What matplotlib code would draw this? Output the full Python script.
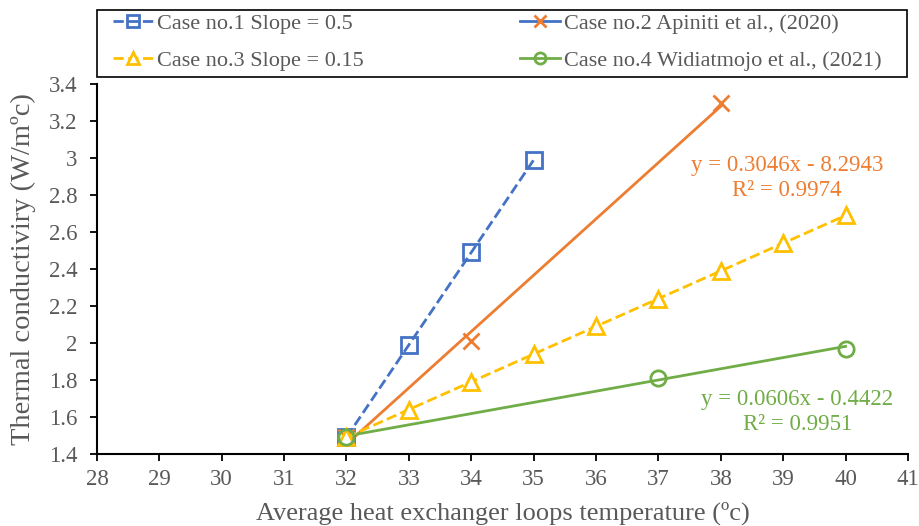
import matplotlib.pyplot as plt
from matplotlib.lines import Line2D
from matplotlib.patches import Rectangle

plt.rcParams['font.family'] = ['Liberation Serif', 'DejaVu Serif']

# data
x1 = [32, 33, 34, 35]
y1 = [1.49, 1.99, 2.49, 2.99]

x2 = [32, 34, 38]
y2 = [1.49, 2.01, 3.30]
fit2 = (0.3046, -8.2943)

x3 = [32, 33, 34, 35, 36, 37, 38, 39, 40]
y3 = [1.49, 1.64, 1.79, 1.94, 2.09, 2.24, 2.39, 2.54, 2.69]

x4 = [32, 37, 40]
y4 = [1.49, 1.81, 1.97]
fit4 = (0.0606, -0.4422)

labels = ['Case no.1 Slope = 0.5', 'Case no.2 Apiniti et al., (2020)',
          'Case no.3 Slope = 0.15', 'Case no.4 Widiatmojo et al., (2021)']

blue = '#4472C4'
orange = '#ED7D31'
yellow = '#FFC000'
green = '#70AD47'
grey = '#595959'

W, H = 919, 526
fig = plt.figure(figsize=(W / 100, H / 100), dpi=100)
ax = fig.add_axes([0.1055, 0.137, 0.8825, 0.703])

# trendlines
tx2 = [min(x2), max(x2)]
ax.plot(tx2, [fit2[0] * v + fit2[1] for v in tx2], color=orange, lw=2, zorder=2)
tx4 = [min(x4), max(x4)]
ax.plot(tx4, [fit4[0] * v + fit4[1] for v in tx4], color=green, lw=2, zorder=2)

ax.plot(x1, y1, color=blue, ls='--', lw=2, marker='s', ms=11, mfc='none', mew=2, zorder=3)
ax.plot(x2, y2, ls='none', marker='x', ms=11, mec=orange, mew=2, zorder=3)
ax.plot(x3, y3, color=yellow, ls='--', lw=2, marker='^', ms=11, mfc='white', mew=2, zorder=3)
ax.plot(x4, y4, ls='none', marker='o', ms=11, mfc='none', mec=green, mew=2, zorder=4)

fs_ann = 16.5
ax.text(39.06, 2.962, 'y = 0.3046x - 8.2943', color=orange, fontsize=fs_ann, ha='center', va='center')
ax.text(39.06, 2.827, 'R² = 0.9974', color=orange, fontsize=fs_ann, ha='center', va='center')
ax.text(39.23, 1.692, 'y = 0.0606x - 0.4422', color=green, fontsize=fs_ann, ha='center', va='center')
ax.text(39.23, 1.557, 'R² = 0.9951', color=green, fontsize=fs_ann, ha='center', va='center')

ax.set_xlim(28, 41)
ax.set_ylim(1.4, 3.4)
ax.set_xticks(range(28, 42))
ax.set_yticks([1.4, 1.6, 1.8, 2, 2.2, 2.4, 2.6, 2.8, 3, 3.2, 3.4])
ax.set_yticklabels(['1.4', '1.6', '1.8', '2', '2.2', '2.4', '2.6', '2.8', '3', '3.2', '3.4'])
ax.tick_params(labelsize=16.5, colors='black', labelcolor=grey, width=1.3, length=5)
ax.tick_params(axis='x', pad=6)
ax.tick_params(axis='y', pad=9)
for s in ['top', 'right']:
    ax.spines[s].set_visible(False)
for s in ['left', 'bottom']:
    ax.spines[s].set_linewidth(1.5)

ax.set_xlabel('Average heat exchanger loops temperature (ºc)', fontsize=19, color=grey, labelpad=8)
ax.set_ylabel('Thermal conductiviry (W/mºc)', fontsize=20.5, color=grey, labelpad=9)

h1 = Line2D([], [], color=blue, ls='--', lw=2, marker='s', ms=8, mfc='none', mew=2)
h2 = Line2D([], [], color=blue, lw=2, marker='x', ms=8, mec=orange, mew=2)
h3 = Line2D([], [], color=yellow, ls='--', lw=2, marker='^', ms=8, mfc='white', mew=2)
h4 = Line2D([], [], color=green, lw=2, marker='o', ms=8, mfc='none', mew=2)
# column-major order so rows read 1,2 / 3,4
leg = fig.legend([h1, h3, h2, h4], [labels[0], labels[2], labels[1], labels[3]],
                 ncol=2, loc='upper left', bbox_to_anchor=(113 / W, 1 - 13 / H),
                 fontsize=16, frameon=False, handlelength=1.8,
                 handletextpad=0.2, borderaxespad=0, borderpad=0, labelcolor=grey,
                 labelspacing=0.75, columnspacing=7.0)

# legend box
fig.patches.append(Rectangle((97 / W, 1 - 77 / H), 810 / W, 67 / H, transform=fig.transFigure,
                             fill=False, edgecolor='black', lw=1.2))

fig.savefig('out.png', dpi=100)
